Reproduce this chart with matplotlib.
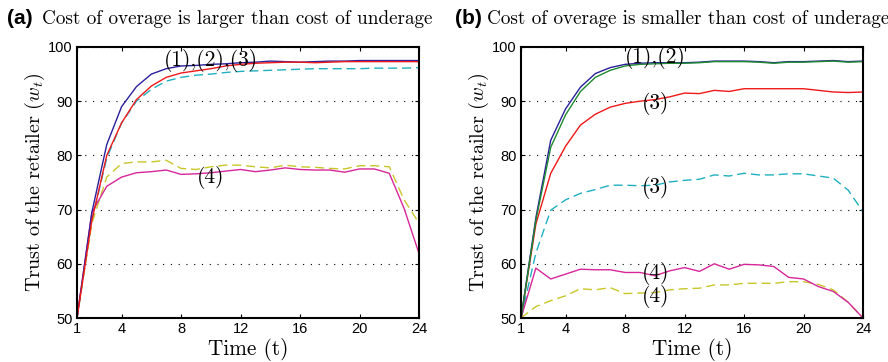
import matplotlib
matplotlib.use("Agg")
import matplotlib.pyplot as plt
import numpy as np

plt.rcParams['mathtext.fontset'] = 'cm'
plt.rcParams['axes.unicode_minus'] = False

t = list(range(1, 25))

# Panel (a): cost of overage larger than cost of underage
a_blue = [50, 69.5, 82, 89, 92.7, 95, 96, 96.5, 96.6, 96.8, 96.9, 97.1, 97.2, 97.4, 97.3,
          97.2, 97.3, 97.4, 97.4, 97.5, 97.5, 97.5, 97.5, 97.5]
a_red = [50, 68, 80, 86, 90.3, 92.8, 94.4, 95.2, 95.6, 96.0, 96.5, 96.8, 97.0, 97.1, 97.2,
         97.2, 97.1, 97.2, 97.3, 97.3, 97.3, 97.3, 97.3, 97.3]
a_cyan = [50, 68, 79.5, 86, 90, 92.2, 93.7, 94.4, 94.8, 95.0, 95.3, 95.5, 95.6, 95.7, 95.8,
          95.9, 96.0, 96.0, 96.0, 96.0, 96.1, 96.1, 96.1, 96.2]
a_magenta = [50, 69.5, 74.3, 76, 76.8, 77.0, 77.3, 76.5, 76.6, 76.8, 77.1, 77.4, 77.0, 77.3,
             77.7, 77.4, 77.3, 77.3, 76.9, 77.5, 77.5, 76.7, 70.2, 61.9]
a_yellow = [50, 67.5, 76, 78.5, 78.8, 78.8, 79.1, 77.6, 77.4, 77.9, 78.2, 78.2, 77.9, 77.7,
            78.2, 77.9, 77.8, 77.6, 77.5, 78.1, 78.1, 77.9, 71.8, 67.5]

# Panel (b): cost of overage smaller than cost of underage
b_blue = [50, 68.5, 82.8, 88.6, 92.6, 95.1, 96.2, 96.8, 97.0, 97.1, 97.1, 97.1, 97.2, 97.4,
          97.4, 97.4, 97.3, 97.1, 97.3, 97.3, 97.4, 97.5, 97.3, 97.4]
b_green = [50, 68, 81.5, 87.5, 91.8, 94.4, 95.7, 96.5, 96.8, 96.9, 97.0, 97.0, 97.1, 97.3,
           97.3, 97.3, 97.2, 97.0, 97.2, 97.2, 97.3, 97.4, 97.2, 97.3]
b_red = [50, 67.3, 76.7, 81.7, 85.6, 87.6, 88.9, 89.6, 90.0, 90.3, 90.8, 91.5, 91.4, 92.0,
         91.8, 92.3, 92.3, 92.3, 92.3, 92.3, 92.0, 91.7, 91.6, 91.7]
b_cyan = [50, 62, 69.9, 71.8, 73.0, 73.7, 74.5, 74.5, 74.4, 74.5, 75.1, 75.4, 75.6, 76.4,
          76.2, 76.7, 76.4, 76.4, 76.6, 76.6, 76.2, 75.8, 73.6, 69.6]
b_magenta = [50, 59.2, 57.2, 58.1, 59.0, 58.9, 58.9, 58.4, 58.4, 57.8, 58.7, 59.3, 58.6, 60.0,
             59.0, 59.9, 59.8, 59.5, 57.5, 57.2, 55.8, 54.9, 52.9, 50]
b_yellow = [50, 52.1, 53.2, 54.1, 55.4, 55.2, 55.6, 54.5, 54.6, 54.7, 55.2, 55.4, 55.5, 56.1,
            56.1, 56.4, 56.4, 56.4, 56.7, 56.7, 56.2, 55.2, 52.9, 50]

titles = ["Cost of overage is larger than cost of underage",
          "Cost of overage is smaller than cost of underage"]
panel_tags = ["(a)", "(b)"]
xticks = [1, 4, 8, 12, 16, 20, 24]
yticks = [50, 60, 70, 80, 90, 100]

c_blue = '#2b1f9c'
c_red = '#f01818'
c_cyan = '#1fb0c0'
c_magenta = '#d6269a'
c_yellow = '#c9c62a'
c_green = '#1e8a2e'
dash = (0, (6.5, 3.5))

fig = plt.figure(figsize=(8.88, 3.62), dpi=100)
ax1 = fig.add_axes([77/888, 1-318/362, 342/888, 271/362])
ax2 = fig.add_axes([521/888, 1-318/362, 342/888, 271/362])

lw = 1.0
ax1.plot(t, a_cyan, color=c_cyan, lw=lw, linestyle=dash)
ax1.plot(t, a_yellow, color=c_yellow, lw=lw, linestyle=dash)
ax1.plot(t, a_magenta, color=c_magenta, lw=lw)
ax1.plot(t, a_blue, color=c_blue, lw=lw)
ax1.plot(t, a_red, color=c_red, lw=lw)

ax2.plot(t, b_cyan, color=c_cyan, lw=lw, linestyle=dash)
ax2.plot(t, b_yellow, color=c_yellow, lw=lw, linestyle=dash)
ax2.plot(t, b_magenta, color=c_magenta, lw=lw)
ax2.plot(t, b_red, color=c_red, lw=lw)
ax2.plot(t, b_blue, color=c_blue, lw=lw)
ax2.plot(t, b_green, color=c_green, lw=lw)

serif = 'cmr10'
for ax, tag, title in zip([ax1, ax2], panel_tags, titles):
    ax.set_xlim(1, 24)
    ax.set_ylim(50, 100)
    ax.set_xticks(xticks)
    ax.set_yticks(yticks)
    ax.set_xticklabels([str(v) for v in xticks], family='Liberation Sans', fontsize=10.5)
    ax.set_yticklabels([str(v) for v in yticks], family='Liberation Sans', fontsize=10.5)
    ax.tick_params(direction='in', top=True, right=True, length=3, width=0.8, pad=3)
    for s in ax.spines.values():
        s.set_linewidth(1.5)
    ax.grid(axis='y', color='black', linestyle=(0, (1, 6)), linewidth=0.8)
    ax.set_xlabel('Time (t)', family=serif, fontsize=15.3, labelpad=1)
    ax.set_ylabel(r'Trust of the retailer ($w_t$)', family=serif, fontsize=14.5, labelpad=1)

fig.text(7/888, 1-19/362, '(a)', family='Liberation Sans', fontweight='bold', fontsize=15, va='center')
fig.text(42/888, 1-19/362, titles[0], family=serif, fontsize=13.8, va='center')
fig.text(455/888, 1-19/362, '(b)', family='Liberation Sans', fontweight='bold', fontsize=15, va='center')
fig.text(487/888, 1-19/362, titles[1], family=serif, fontsize=13.8, va='center')

tfs = 15.5
ax1.text(10.0, 97.6, '(1),(2),(3)', family=serif, fontsize=tfs, ha='center', va='center')
ax1.text(10.0, 75.9, '(4)', family=serif, fontsize=tfs, ha='center', va='center')
ax2.text(10.0, 98.0, '(1),(2)', family=serif, fontsize=tfs, ha='center', va='center')
ax2.text(10.05, 89.6, '(3)', family=serif, fontsize=tfs, ha='center', va='center')
ax2.text(10.05, 74.0, '(3)', family=serif, fontsize=tfs, ha='center', va='center')
ax2.text(10.05, 58.2, '(4)', family=serif, fontsize=tfs, ha='center', va='center')
ax2.text(10.05, 54.0, '(4)', family=serif, fontsize=tfs, ha='center', va='center')

fig.savefig('out.png', dpi=100)
